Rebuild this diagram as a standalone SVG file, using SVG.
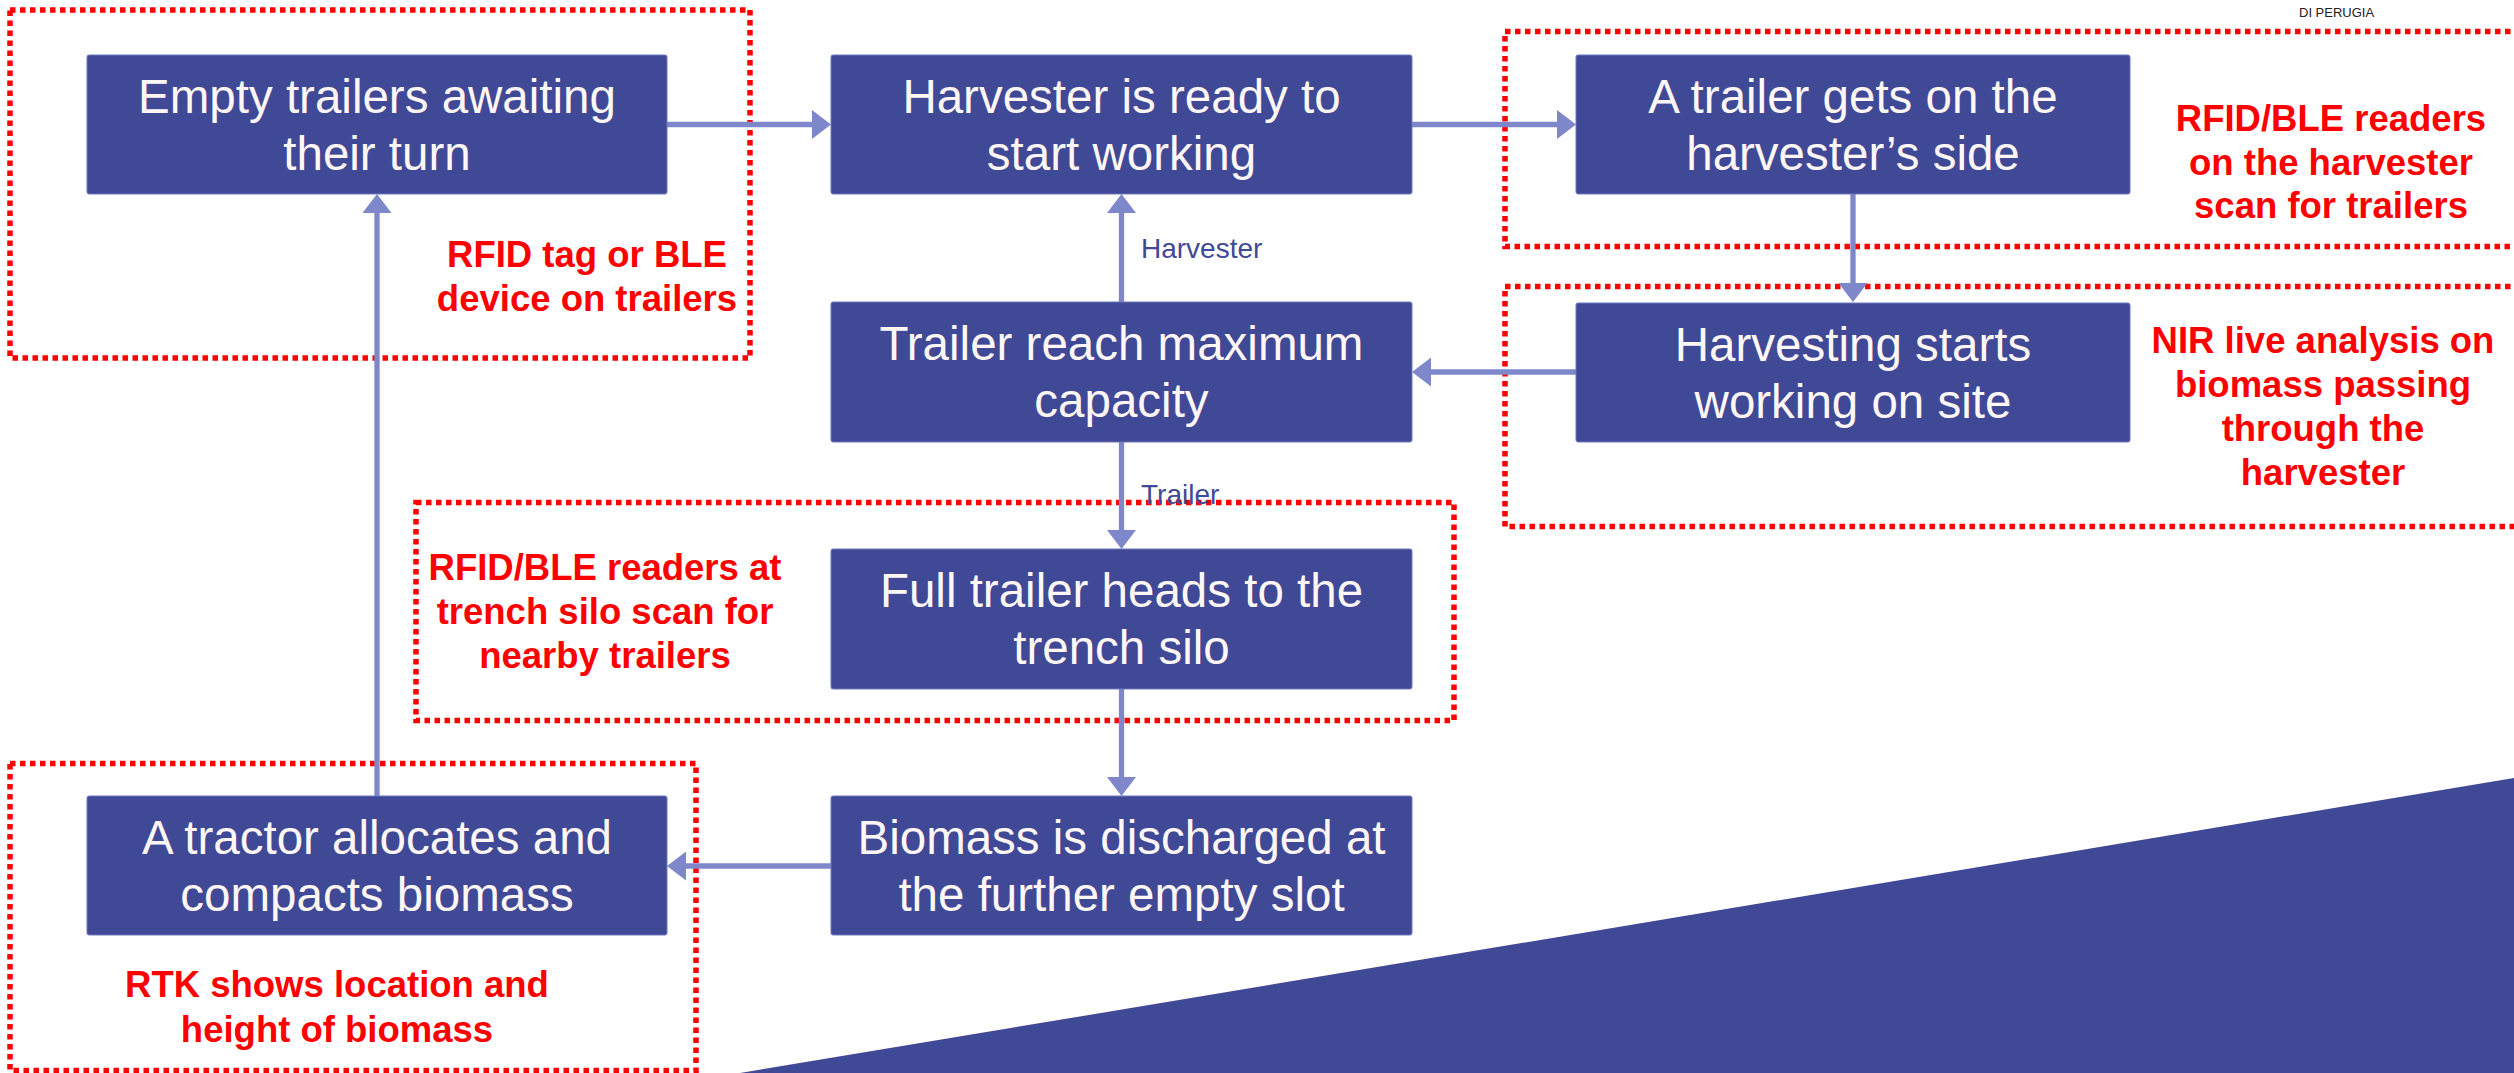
<svg xmlns="http://www.w3.org/2000/svg" width="2514" height="1073" viewBox="0 0 2514 1073">
  <defs>
    <style>
      .node rect { fill: #404996; stroke: #6f78bd; stroke-width: 1; }
      .node text { font-family: "Liberation Sans", Arial, sans-serif; font-size: 47.5px; fill: #fff6f6; text-anchor: middle; }
      .zone { fill: none; stroke: #ff0000; stroke-width: 5.5; stroke-dasharray: 5.5 4.5; }
      .note { font-family: "Liberation Sans", Arial, sans-serif; font-weight: bold; font-size: 36.5px; fill: #ff0000; text-anchor: middle; }
      .edge { fill: none; stroke: #7f87cb; stroke-width: 5.3; }
      .elabel { font-family: "Liberation Sans", Arial, sans-serif; font-size: 28px; fill: #3f4a96; }
    </style>
    <marker id="ah" viewBox="0 0 19 29" refX="9" refY="14.5" markerWidth="19" markerHeight="29" markerUnits="userSpaceOnUse" orient="auto">
      <path d="M0,0 L19,14.5 L0,29 Z" fill="#7f87cb"/>
    </marker>
  </defs>

  <rect width="2514" height="1073" fill="#ffffff"/>

  <!-- decorative corner band -->
  <polygon points="740,1073 2514,778 2514,1073" fill="#404996"/>

  <text x="2299" y="17" font-family="'Liberation Sans', Arial, sans-serif" font-size="13" fill="#222222">DI PERUGIA</text>

  <!-- sensor zones -->
  <g id="zones">
    <rect class="zone" x="10" y="10" width="740" height="348"/>
    <rect class="zone" x="1505" y="31.5" width="1030" height="215"/>
    <rect class="zone" x="1505" y="286.5" width="1030" height="240"/>
    <rect class="zone" x="416" y="502.5" width="1038" height="218"/>
    <rect class="zone" x="10" y="763.5" width="686" height="307"/>
  </g>

  <!-- connectors -->
  <g id="connectors">
    <path class="edge" d="M667,124.5 H821" marker-end="url(#ah)"/>
    <path class="edge" d="M1412,124.5 H1566" marker-end="url(#ah)"/>
    <path class="edge" d="M1853,194 V292" marker-end="url(#ah)"/>
    <path class="edge" d="M1576,372 H1422" marker-end="url(#ah)"/>
    <path class="edge" d="M1121.5,302 V204" marker-end="url(#ah)"/>
    <path class="edge" d="M1121.5,442 V539" marker-end="url(#ah)"/>
    <path class="edge" d="M1121.5,689 V786" marker-end="url(#ah)"/>
    <path class="edge" d="M831,866 H677" marker-end="url(#ah)"/>
    <path class="edge" d="M377,796 V204" marker-end="url(#ah)"/>
    <text class="elabel" x="1141" y="258">Harvester</text>
    <text class="elabel" x="1141" y="504">Trailer</text>
  </g>

  <!-- process steps -->
  <g id="n-empty-trailers" class="node">
    <rect x="87" y="55" width="580" height="139" rx="2"/>
    <text x="377" y="113">Empty trailers awaiting</text>
    <text x="377" y="170">their turn</text>
  </g>
  <g id="n-harvester-ready" class="node">
    <rect x="831" y="55" width="581" height="139" rx="2"/>
    <text x="1121.5" y="113">Harvester is ready to</text>
    <text x="1121.5" y="170">start working</text>
  </g>
  <g id="n-trailer-side" class="node">
    <rect x="1576" y="55" width="554" height="139" rx="2"/>
    <text x="1853" y="113">A trailer gets on the</text>
    <text x="1853" y="170">harvester’s side</text>
  </g>
  <g id="n-harvesting" class="node">
    <rect x="1576" y="303" width="554" height="139" rx="2"/>
    <text x="1853" y="361">Harvesting starts</text>
    <text x="1853" y="418">working on site</text>
  </g>
  <g id="n-max-capacity" class="node">
    <rect x="831" y="302" width="581" height="140" rx="2"/>
    <text x="1121.5" y="360">Trailer reach maximum</text>
    <text x="1121.5" y="417">capacity</text>
  </g>
  <g id="n-full-trailer" class="node">
    <rect x="831" y="549" width="581" height="140" rx="2"/>
    <text x="1121.5" y="607">Full trailer heads to the</text>
    <text x="1121.5" y="664">trench silo</text>
  </g>
  <g id="n-discharge" class="node">
    <rect x="831" y="796" width="581" height="139" rx="2"/>
    <text x="1121.5" y="854">Biomass is discharged at</text>
    <text x="1121.5" y="911">the further empty slot</text>
  </g>
  <g id="n-tractor" class="node">
    <rect x="87" y="796" width="580" height="139" rx="2"/>
    <text x="377" y="854">A tractor allocates and</text>
    <text x="377" y="911">compacts biomass</text>
  </g>

  <!-- sensor notes -->
  <g id="notes">
    <text class="note" x="587" y="267">RFID tag or BLE</text>
    <text class="note" x="587" y="311">device on trailers</text>

    <text class="note" x="2331" y="131">RFID/BLE readers</text>
    <text class="note" x="2331" y="175">on the harvester</text>
    <text class="note" x="2331" y="218">scan for trailers</text>

    <text class="note" x="2323" y="353">NIR live analysis on</text>
    <text class="note" x="2323" y="397">biomass passing</text>
    <text class="note" x="2323" y="441">through the</text>
    <text class="note" x="2323" y="485">harvester</text>

    <text class="note" x="605" y="580">RFID/BLE readers at</text>
    <text class="note" x="605" y="624">trench silo scan for</text>
    <text class="note" x="605" y="668">nearby trailers</text>

    <text class="note" x="337" y="997">RTK shows location and</text>
    <text class="note" x="337" y="1042">height of biomass</text>
  </g>
</svg>
